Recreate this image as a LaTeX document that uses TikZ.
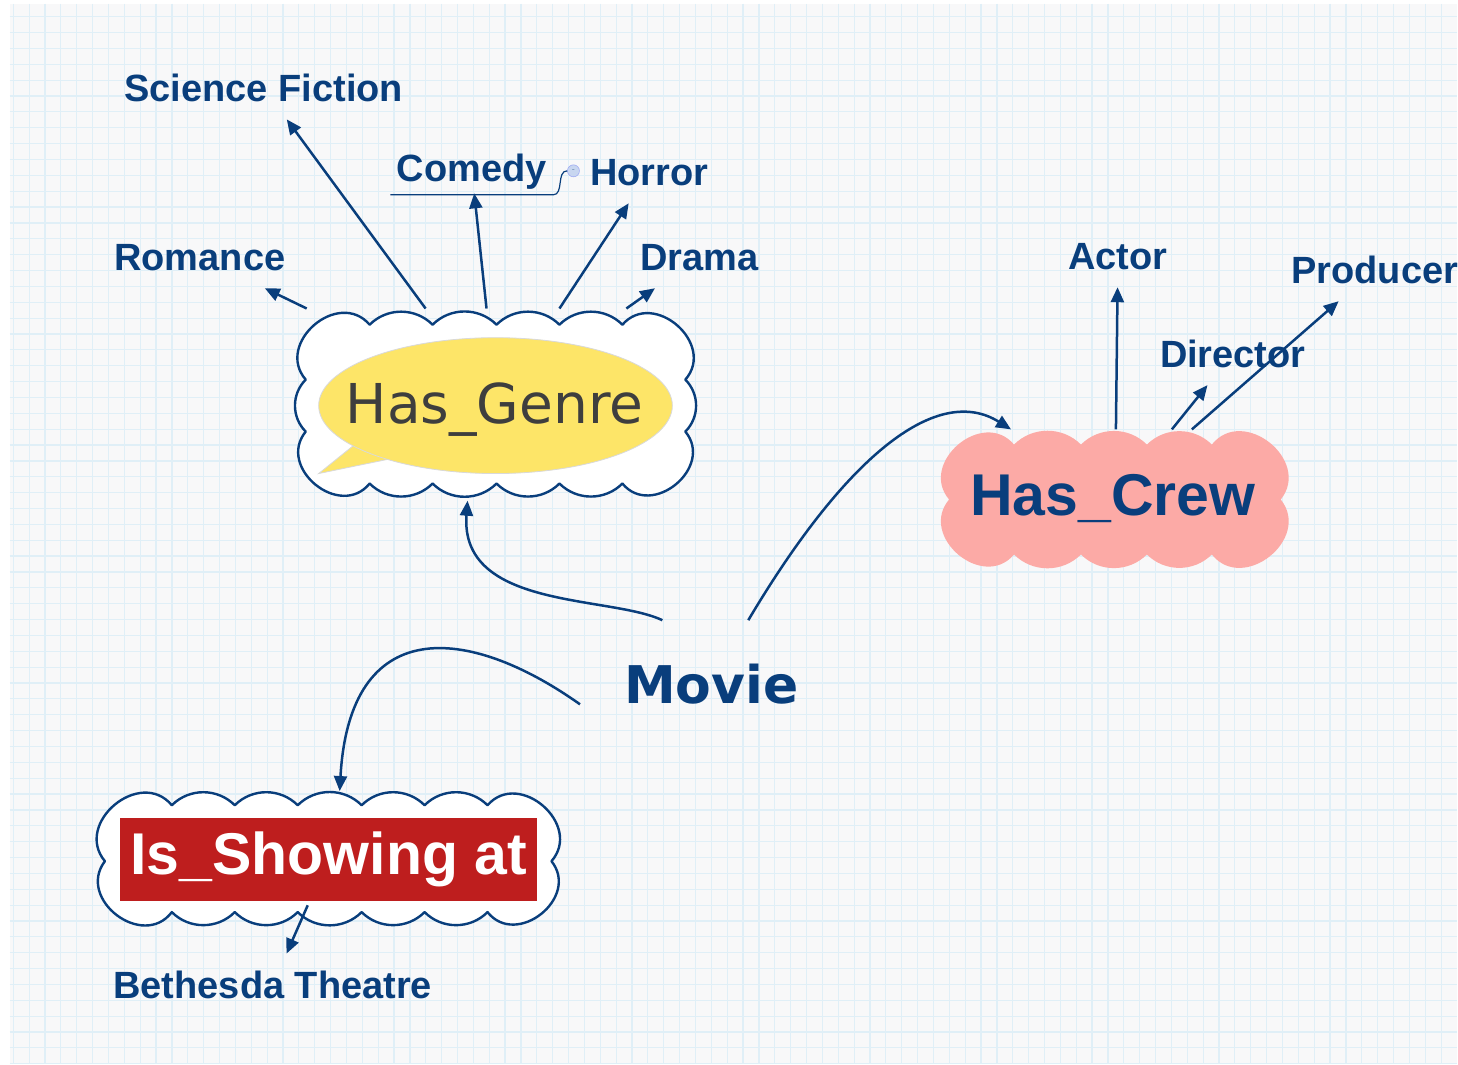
\documentclass[tikz,border=0pt]{standalone}
\usepackage{fontspec}
\setmainfont{Liberation Sans}
\newfontfamily\dejavu{DejaVu Sans}
\usetikzlibrary{arrows.meta}

\definecolor{inkblue}{RGB}{9,62,124}
\definecolor{paper}{RGB}{248,248,249}
\definecolor{gridblue}{RGB}{224,239,247}
\definecolor{genregray}{RGB}{62,62,62}
\definecolor{bubbleyellow}{RGB}{253,229,104}
\definecolor{crewpink}{RGB}{252,170,166}
\definecolor{showred}{RGB}{190,30,30}
\definecolor{foldblue}{RGB}{200,214,240}

\begin{document}
\begin{tikzpicture}[
  x=1pt, y=-1pt,
  gridline/.style={draw=gridblue, line width=1.2pt},
  frame/.style={rectangle, inner sep=0pt},
  cloudline/.style={draw=inkblue, fill=white, line width=2.4pt, line join=round, line cap=round},
  cloudfill/.style={fill=crewpink},
  bubble/.style={fill=bubbleyellow, draw=black!15, line width=0.8pt},
  topic/.style={font=\bfseries\fontsize{38}{38}\selectfont, text=inkblue, inner sep=0pt, outer sep=18pt, text height=27pt, text depth=0pt},
  genretext/.style={font=\dejavu\fontsize{55}{55}\selectfont, text=genregray, inner sep=0pt, text height=40pt, text depth=0pt},
  crewtext/.style={font=\bfseries\fontsize{59}{59}\selectfont, text=inkblue, inner sep=0pt, text height=42pt, text depth=0pt},
  showbox/.style={fill=showred, text=white, font=\bfseries\fontsize{59}{59}\selectfont, inner sep=0pt, minimum width=418, minimum height=83, text height=42pt, text depth=11pt},
  movietext/.style={font=\dejavu\bfseries\fontsize{52}{52}\selectfont, text=inkblue, inner sep=0pt, text height=38pt, text depth=0pt},
  link/.style={draw=inkblue, line width=2.5pt, -{Triangle[length=15pt,width=13pt]}},
  branch/.style={link},
  uline/.style={draw=inkblue, line width=1.2pt},
  fold/.style={circle, fill=foldblue, draw=foldblue!80!blue, line width=0.6pt, minimum size=12pt, inner sep=0pt, text=inkblue!60, font=\fontsize{9}{9}\selectfont}
]

% paper with grid
\fill[white] (0,0) rectangle (1458,1065);
\fill[paper] (10,4) rectangle (1458,1065);
\foreach \k in {0,...,90} {
  \draw[gridline] ({13.3+15.88*\k},4) -- ({13.3+15.88*\k},1065);
}
\foreach \k in {0,...,66} {
  \draw[gridline] (10,{16.7+15.88*\k}) -- (1458,{16.7+15.88*\k});
}

% Has_Genre cloud
\node[frame, minimum width=400, minimum height=192] (genre) at (496,405) {};
\path[cloudline] (370,325) \foreach \x/\y/\a/\l in {433/325/45/1, 497/325/45/1, 560/325/45/1, 623/325/45/1, 686/380/90/1.45, 686/432/45/1, 623/484/90/1.45, 560/484/45/1, 497/484/45/1, 433/484/45/1, 370/484/45/1, 306/432/90/1.45, 306/380/45/1, 370/325/90/1.45} { to[bend left=\a, looseness=\l] (\x,\y) };
\filldraw[bubble] (355,445) -- (319,474) -- (392,459);
\filldraw[bubble] (496,406) ellipse [x radius=177, y radius=68];
\node[genretext] (genrelabel) at (495,404) {Has\_Genre};

% Has_Crew cloud
\node[frame, minimum width=352, minimum height=138] (crew) at (1116,499) {};
\path[cloudfill] (1015,445) \foreach \x/\y/\a/\l in {1082/445/45/1, 1148/445/45/1, 1213/445/45/1, 1282/500/90/1.45, 1213/555/90/1.45, 1148/555/45/1, 1082/555/45/1, 1015/555/45/1, 950/500/90/1.45, 1015/445/90/1.45} { to[bend left=\a, looseness=\l] (\x,\y) };
\node[crewtext] (crewlabel) at (1114,495) {Has\_Crew};

% Is_Showing cloud
\node[frame, minimum width=464, minimum height=130] (showing) at (329,860) {};
\path[cloudline] (172,806) \foreach \x/\y/\a/\l in {235/806/45/1, 298/806/45/1, 362/806/45/1, 425/806/45/1, 488/806/45/1, 552/862/90/1.45, 488/913/90/1.45, 425/913/45/1, 362/913/45/1, 298/913/45/1, 235/913/45/1, 172/913/45/1, 105/862/90/1.45, 172/806/90/1.45} { to[bend left=\a, looseness=\l] (\x,\y) };
\node[showbox] (showlabel) at (329,860) {Is\_Showing at};

% central topic
\node[movietext] (movie) at (712,685) {Movie};

% genre topics
\node[topic] (scifi) at (264,88) {Science Fiction};
\node[topic, outer sep=12pt] (comedy) at (472,168) {Comedy};
\node[topic] (horror) at (650,172) {Horror};
\node[topic] (romance) at (200,257) {Romance};
\node[topic] (drama) at (700,257) {Drama};

% crew topics
\node[topic] (actor) at (1119,256) {Actor};
\node[topic] (producer) at (1376,270) {Producer};
\node[topic] (director) at (1234,354) {Director};

% venue topic
\node[topic] (bethesda) at (273,986) {Bethesda Theatre};

% selection mark under Comedy
\node[fold] (fold) at (574,171) {-};
\draw[uline] (fold.west) to[out=180, in=0] ++(-14,24) -- ++(-163,0);

% arrows out of the clouds
\draw[link] ([xshift=-189pt]genre.north) -- (romance);
\draw[link] ([xshift=-70pt]genre.north) -- (scifi);
\draw[link] ([xshift=-9pt]genre.north) -- (comedy);
\draw[link] ([xshift=64pt]genre.north) -- (horror);
\draw[link] ([xshift=131pt]genre.north) -- (drama);
\draw[link] ([xshift=1pt]crew.north) -- (actor);
\draw[link] ([xshift=57pt]crew.north) -- (director);
\draw[link] ([xshift=77pt]crew.north) -- (producer);
\draw[link] ([xshift=-21pt,yshift=19pt]showing.south) -- (bethesda);

% branches from Movie
\draw[branch] ([xshift=-49pt,yshift=45pt]movie.north) .. controls +(-53,-25) and +(-8,109) .. ([xshift=-28pt]genre.south);
\draw[branch] ([xshift=37pt,yshift=45pt]movie.north) .. controls +(101,-170) and +(-72,-45) .. ([xshift=-104pt]crew.north);
\draw[branch] ([xshift=-44pt,yshift=-20pt]movie.west) .. controls +(-113,-80) and +(10,-177) .. ([xshift=11pt,yshift=3pt]showing.north);

\end{tikzpicture}
\end{document}
